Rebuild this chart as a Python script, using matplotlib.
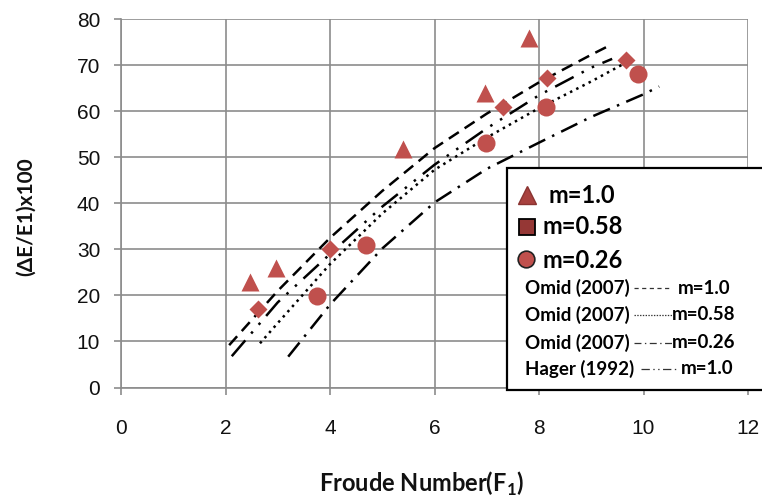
import numpy as np
import matplotlib
matplotlib.use("Agg")
import matplotlib.pyplot as plt
from matplotlib.lines import Line2D
from matplotlib.patches import Rectangle

plt.rcParams["lines.scale_dashes"] = False
plt.rcParams["mathtext.fontset"] = "custom"
plt.rcParams["mathtext.rm"] = "Lato:bold"

# measured points
tri_x = [2.47, 2.97, 5.40, 6.97, 7.80]
tri_y = [22.9, 26.0, 51.8, 64.0, 76.0]
dia_x = [2.62, 4.00, 7.32, 8.16, 9.66]
dia_y = [17.1, 30.1, 61.0, 67.3, 71.2]
cir_x = [3.75, 4.69, 6.99, 8.14, 9.90]
cir_y = [19.9, 31.0, 53.1, 61.0, 68.2]

# curves
omid10_x = [2.07, 3.0, 4.0, 5.0, 6.0, 7.0, 8.0, 9.0, 9.4]
omid10_y = [9.2, 21.0, 32.5, 42.7, 52.0, 59.5, 66.3, 72.3, 74.6]
hager_x = [2.12, 3.0, 4.0, 5.0, 6.0, 7.0, 8.0, 9.0, 9.4]
hager_y = [6.8, 18.5, 29.0, 39.3, 48.4, 56.3, 63.5, 69.5, 71.4]
omid058_x = [2.66, 3.0, 4.0, 5.0, 6.0, 7.0, 8.0, 9.0, 9.7]
omid058_y = [9.6, 14.0, 26.8, 37.8, 47.3, 54.3, 60.7, 66.5, 70.8]
omid026_x = [3.2, 4.0, 5.0, 6.0, 7.0, 8.0, 9.0, 10.0, 10.3]
omid026_y = [6.7, 18.0, 30.2, 40.2, 47.5, 53.2, 58.8, 63.7, 65.4]

W, H = 762, 499
fx = lambda px: px / W
fy = lambda py: 1 - py / H

fig = plt.figure(figsize=(W / 100, H / 100), dpi=100)
ax = fig.add_axes([fx(121), fy(387.5), (748 - 121) / W, (387.5 - 19.3) / H])

red = "#C0504D"
grid_c = "#8C8C8C"

ax.plot(omid10_x, omid10_y, color="black", lw=1.8, dashes=[8.6, 5], zorder=3)
ax.plot(hager_x, hager_y, color="black", lw=1.8, dashes=[15, 6.5, 1.8, 6.5, 1.8, 6.5], zorder=3)
ax.plot(omid058_x, omid058_y, color="black", lw=1.8, dashes=[1.8, 3.2], zorder=3)
ax.plot(omid026_x, omid026_y, color="black", lw=1.8, dashes=[13, 5.5, 1.8, 5.5], zorder=3)

ax.plot(tri_x, tri_y, "^", color=red, ms=12.5, mec="none", zorder=4)
ax.plot(dia_x, dia_y, "D", color=red, ms=9, mec="none", zorder=4)
ax.plot(cir_x, cir_y, "o", color=red, ms=13, mec="none", zorder=4)

ax.set_xlim(0, 12)
ax.set_ylim(0, 80)
ax.set_xticks(range(0, 13, 2))
ax.set_yticks(range(0, 81, 10))
ax.grid(True, color=grid_c, lw=1.2)
ax.set_axisbelow(True)
for s in ["top", "right"]:
    ax.spines[s].set_visible(False)
for s in ["left", "bottom"]:
    ax.spines[s].set_color(grid_c)
    ax.spines[s].set_linewidth(1.2)
ax.tick_params(axis="both", direction="out", length=5, width=1.2, color=grid_c,
               labelsize=15, labelcolor="#111111")
ax.tick_params(axis="x", pad=18)
ax.tick_params(axis="y", pad=10)
for lab in ax.get_xticklabels() + ax.get_yticklabels():
    lab.set_fontfamily("Liberation Sans")

fig.text(fx(26), fy(217), "(ΔE/E1)x100", rotation=90, ha="center", va="center",
         fontsize=15, fontweight="bold", family=["Lato", "DejaVu Sans"], color="#111111")
fig.text(fx(422), fy(484), "Froude Number(F$_\\mathrm{1}$)", ha="center", va="center",
         fontsize=17, fontweight="bold", family="Lato", color="#111111")

# legend box drawn by hand
fig.add_artist(Rectangle((fx(507), fy(390)), fx(780) - fx(507), fy(168) - fy(390),
                         transform=fig.transFigure, facecolor="white",
                         edgecolor="black", lw=1.6, zorder=10))
big = dict(fontsize=17, fontweight="bold", family="Lato", va="center", ha="left",
           zorder=11, color="black")
fig.add_artist(Line2D([fx(527)], [fy(195)], marker="^", ms=12.5, color="#A8413E",
                      mec="#8A3331", transform=fig.transFigure, zorder=11))
fig.text(fx(549), fy(195), "m=1.0", **big)
fig.add_artist(Line2D([fx(527)], [fy(227)], marker="s", ms=11, color="#953735",
                      mec="black", mew=1.3, transform=fig.transFigure, zorder=11))
fig.text(fx(542), fy(227), "m=0.58", **big)
fig.add_artist(Line2D([fx(526)], [fy(259)], marker="o", ms=12, color=red,
                      mec="#222222", mew=1.2, transform=fig.transFigure, zorder=11))
fig.text(fx(542), fy(260), "m=0.26", **big)

small = dict(fontsize=13.5, fontweight="bold", family="Lato", va="center", ha="left",
             zorder=11, color="black")
rows = [
    ("Omid (2007)", "m=1.0", 288, [3, 2.5], 634, 670, 678),
    ("Omid (2007)", "m=0.58", 315, [1, 1], 634, 672, 672),
    ("Omid (2007)", "m=0.26", 343, [5, 2.5, 1, 2.5], 634, 672, 672),
    ("Hager (1992)", "m=1.0", 369, [6, 2.5, 1, 2.5, 1, 2.5], 641, 676, 681),
]
for left, right, py, dsh, x0, x1, xt in rows:
    fig.text(fx(525), fy(py), left, **small)
    fig.add_artist(Line2D([fx(x0), fx(x1)], [fy(py), fy(py)], color="#333333", lw=0.9,
                          dashes=dsh, transform=fig.transFigure, zorder=11))
    fig.text(fx(xt), fy(py), right, **small)

fig.savefig("out.png", dpi=100)
